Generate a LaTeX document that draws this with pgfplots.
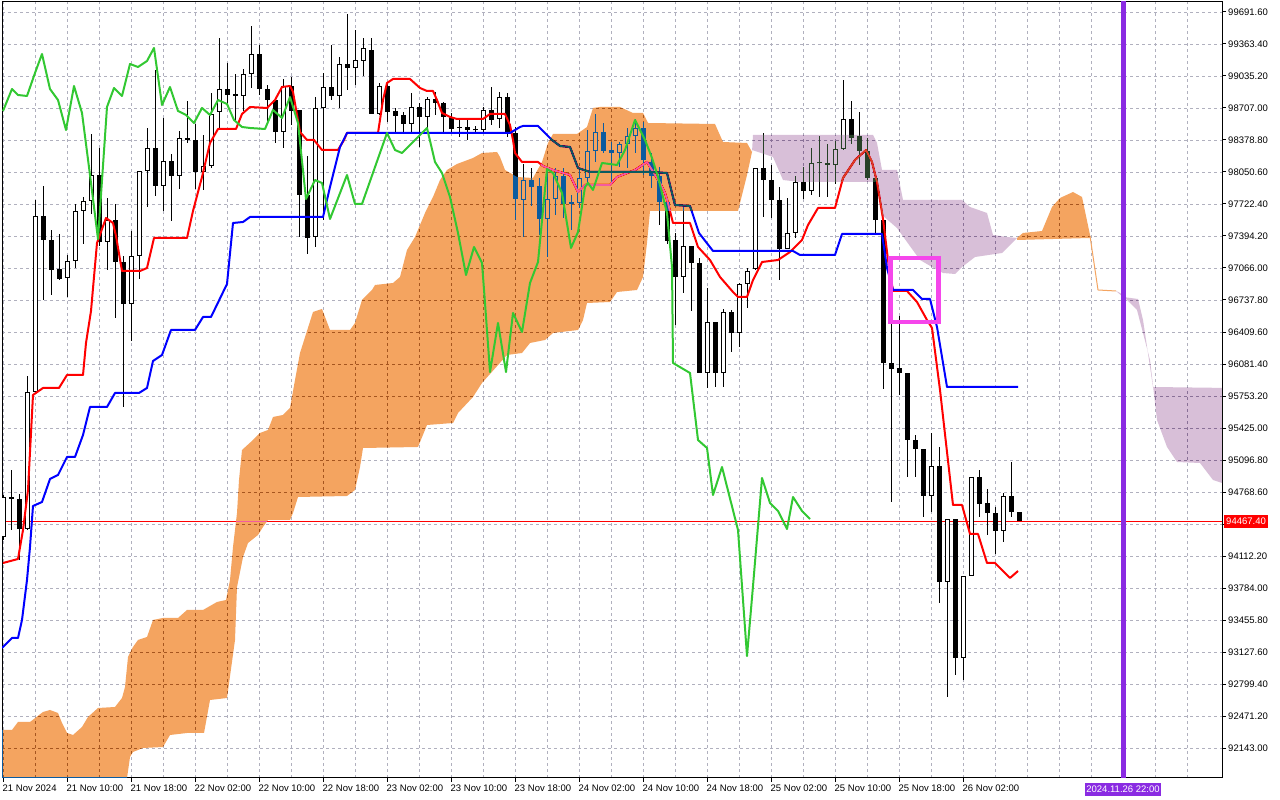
\documentclass[border=0pt]{standalone}
\usepackage{fontspec}
\setmainfont{Liberation Sans}
\usepackage{pgfplots}
\usepackage{pgfplotstable}
\pgfplotsset{compat=1.18}
\definecolor{tenkan}{RGB}{255,0,0}
\definecolor{kijun}{RGB}{0,0,255}
\definecolor{chikou}{RGB}{50,200,50}
\definecolor{sandyinv}{RGB}{11,91,159}
\definecolor{thistleinv}{RGB}{39,64,39}
\definecolor{sandy}{RGB}{244,164,96}
\definecolor{gridc}{RGB}{176,176,190}
\definecolor{vline}{RGB}{138,43,226}
\definecolor{boxc}{RGB}{245,70,235}
\definecolor{bidred}{RGB}{255,0,0}

\pgfplotstableread{
t o h l c
0 94307.2 94738.0 94276.5 94717.5
3 94389.3 95958.4 94379.0 95794.3
4 95794.3 97763.5 95784.1 97599.4
8 96963.5 97199.4 96768.7 97137.9
9 97137.9 97722.5 97066.1 97650.7
10 97650.7 97794.3 97312.2 97753.2
11 97753.2 98440.4 97619.9 98019.9
13 97332.7 97784.0 97045.6 97558.4
16 96696.9 97445.6 96317.4 97189.2
17 97189.2 98060.9 96953.3 98060.9
18 98060.9 98501.9 97691.7 98296.8
20 97907.1 98604.5 97650.7 98163.5
22 98009.6 98471.2 97876.3 98399.4
25 98050.7 98430.1 97866.1 98112.2
26 98112.2 98860.9 98091.7 98645.5
27 98666.0 99425.0 98491.7 98901.9
30 98830.1 99107.0 98676.3 99055.8
31 99055.8 99548.0 98912.2 99260.9
35 98460.9 99004.5 98296.8 98932.7
39 97384.0 98819.9 97281.5 98707.1
40 98707.1 99066.0 97558.4 98922.4
42 98830.1 99230.1 98707.1 99158.3
44 99117.3 99507.0 98942.9 99199.3
45 99189.1 99425.0 99035.2 99322.4
47 98645.5 98963.5 98635.3 98932.7
51 98543.0 98860.9 98450.7 98717.3
53 98614.7 98819.9 98450.7 98799.4
60 98481.4 98717.3 98460.9 98686.5
62 98594.2 98871.1 98501.9 98819.9
65 97763.5 98132.7 97384.0 97968.6
68 97568.6 98071.2 97178.9 97773.8
69 97773.8 98091.7 97609.7 98009.6
72 97732.7 98071.2 97681.5 97989.1
73 97989.1 98481.4 97917.3 98266.0
74 98266.0 98645.5 98153.2 98460.9
77 98245.5 98358.3 98101.9 98337.8
78 98337.8 98501.9 98091.7 98419.9
79 98419.9 98594.2 98245.5 98501.9
85 96973.8 97691.7 96809.7 97291.7
88 95989.2 96861.0 95835.4 96512.3
90 95989.2 96645.6 95845.6 96614.8
92 96399.5 96912.3 96255.9 96902.0
93 96902.0 97066.1 96655.9 97035.3
94 97055.8 98091.7 97045.6 98091.7
98 97261.0 97784.0 97261.0 97425.1
99 97425.1 98009.6 97373.8 97948.1
101 97855.8 98296.8 97814.8 98143.0
104 98122.5 98368.6 97927.6 98286.6
105 98286.6 98994.2 98276.3 98594.2
116 94727.7 95373.9 94563.6 95035.4
118 93845.7 94491.8 92666.3 94491.8
120 93066.3 93907.2 92840.6 93907.2
121 93907.2 94922.6 93907.2 94922.6
125 94368.8 94758.5 94255.9 94727.7
}\bull

\pgfplotstableread{
t o h l c
1 94717.5 94994.4 94379.0 94697.0
2 94697.0 94748.2 94071.3 94389.3
5 97599.4 97907.1 96737.9 97353.3
6 97353.3 97455.8 96789.2 97045.6
7 97055.8 97414.8 96943.0 96953.3
12 98019.9 98296.8 97291.7 97332.7
14 97558.4 97722.5 96553.3 97127.6
15 97127.6 97189.2 95640.5 96696.9
19 98296.8 99096.8 97804.5 97907.1
21 98163.5 98235.3 97548.1 98009.6
23 98399.4 98778.8 98348.1 98378.9
24 98378.9 98543.0 97876.3 98050.7
28 98901.9 99168.6 98717.3 98840.4
29 98850.6 99055.8 98573.7 98830.1
32 99260.9 99353.2 98840.4 98901.9
33 98901.9 98942.9 98563.5 98789.1
34 98789.1 98809.6 98348.1 98460.9
36 98932.7 99025.0 98532.7 98676.3
37 98686.5 98686.5 97384.0 97814.8
38 97814.8 98214.8 97209.7 97373.8
41 98922.4 99353.2 98789.1 98830.1
43 99158.3 99671.1 98891.7 99117.3
46 99301.9 99425.0 98645.5 98645.5
48 98932.7 98973.7 98563.5 98666.0
49 98676.3 98707.1 98450.7 98625.0
50 98635.3 98666.0 98450.7 98543.0
52 98717.3 98758.3 98307.1 98614.7
54 98799.4 98871.1 98635.3 98758.3
55 98758.3 98768.6 98450.7 98614.7
56 98614.7 98655.8 98450.7 98491.7
57 98512.2 98584.0 98409.6 98501.9
58 98512.2 98584.0 98378.9 98481.4
59 98491.7 98522.4 98450.7 98476.3
61 98686.5 98922.4 98532.7 98584.0
63 98819.9 98860.9 98409.6 98450.7
64 98450.7 98512.2 97558.4 97773.8
66 97968.6 98091.7 97702.0 97896.8
67 97907.1 97989.1 97404.5 97568.6
70 98009.6 98091.7 97578.9 97722.5
71 97737.8 97814.8 97455.8 97722.5
75 98460.9 98553.2 98245.5 98266.0
76 98276.3 98358.3 97948.1 98245.5
80 98501.9 98563.5 98019.9 98173.7
81 98153.2 98245.5 97886.6 98009.6
82 98009.6 98101.9 97507.1 97743.0
83 97743.0 97784.0 97312.2 97343.0
84 97353.3 97425.1 96481.5 96973.8
86 97291.7 97291.7 96625.1 97117.4
87 97117.4 97168.7 95989.2 95989.2
89 96512.3 96512.3 95845.6 95989.2
91 96614.8 96635.3 96204.6 96399.5
95 98091.7 98450.7 97589.1 97968.6
96 97968.6 98122.5 97578.9 97763.5
97 97763.5 97896.8 96943.0 97261.0
100 97948.1 98101.9 97773.8 97855.8
102 98148.0 98419.9 97794.3 98138.0
103 98143.0 98337.8 97794.3 98122.5
106 98594.2 98778.8 98337.8 98399.4
107 98419.9 98666.0 98122.5 98266.0
108 98266.0 98399.4 97968.6 97989.1
109 97989.1 98019.9 97425.1 97558.4
110 97558.4 97558.4 95825.1 96091.8
111 96091.8 96573.8 94666.2 96030.2
112 96040.5 96573.8 95763.6 95989.2
113 95989.2 95989.2 94922.6 95302.1
114 95302.1 95353.3 94922.6 95209.8
115 95209.8 95209.8 94512.3 94727.7
117 95035.4 95230.3 93630.3 93845.7
119 94491.8 94491.8 92891.9 93066.3
122 94922.6 94994.4 94512.3 94645.7
123 94655.9 94799.5 94327.7 94553.4
124 94553.4 94614.9 94132.9 94368.8
126 94727.7 95076.4 94512.3 94563.6
127 94563.6 94563.6 94467.4 94467.4
}\bear

\pgfplotsset{
  candle/.style={draw=none, mark=none, mark size=0pt, forget plot,
    error bars/.cd, y dir=plus, y explicit, error mark=none},
}

\begin{document}
\begin{tikzpicture}[x=1pt,y=1pt]
\fill[white] (0,0) rectangle (1280,800);
\useasboundingbox (0,0) rectangle (1280,800);
\begin{axis}[
  at={(2pt,22pt)}, anchor=south west,
  scale only axis, width=1220pt, height=776pt,
  xmin=-0.125, xmax=152.375, ymin=91835.5, ymax=99794.2,
  scaled y ticks=false, scaled x ticks=false,
  axis line style={black, line width=1pt},
  xtick={0,8,...,120},
  xticklabels={21 Nov 2024,21 Nov 10:00,21 Nov 18:00,22 Nov 02:00,22 Nov 10:00,22 Nov 18:00,23 Nov 02:00,23 Nov 10:00,23 Nov 18:00,24 Nov 02:00,24 Nov 10:00,24 Nov 18:00,25 Nov 02:00,25 Nov 10:00,25 Nov 18:00,26 Nov 02:00},
  minor xtick={4,8,...,148},
  ytick={92143.0,92471.2,92799.4,93127.6,93455.8,93784.0,94112.2,94440.4,94768.6,95096.8,95425.0,95753.2,96081.4,96409.6,96737.8,97066.0,97394.2,97722.4,98050.6,98378.8,98707.0,99035.2,99363.4,99691.6},
  yticklabels={92143.00,92471.20,92799.40,93127.60,93455.80,93784.00,94112.20,{},94768.60,95096.80,95425.00,95753.20,96081.40,96409.60,96737.80,97066.00,97394.20,97722.40,98050.60,98378.80,98707.00,99035.20,99363.40,99691.60},
  xtick pos=left, ytick pos=right, yticklabel pos=right,
  tick align=outside, major tick length=4pt, minor tick length=0pt,
  tick style={black, line width=1pt},
  grid=both,
  major grid style={gridc, dash pattern=on 3pt off 3pt, line width=0.8pt},
  minor grid style={gridc, dash pattern=on 3pt off 3pt, line width=0.8pt},
  every tick label/.append style={font=\fontsize{9.5}{11}\selectfont, text=black},
  xticklabel style={anchor=north west, inner sep=0pt, yshift=-3pt, xshift=-0.5pt},
  yticklabel style={anchor=west, inner sep=0pt, xshift=2pt},
]
% bid line (behind the candles)
\addplot[draw=bidred, line width=1.2pt, forget plot] coordinates {(-0.125,94467.4) (152.375,94467.4)};
% wicks
\addplot[candle, error bar style={draw=black, line width=1pt}] table[x=t, y=l, y error plus expr={\thisrow{h}-\thisrow{l}}] {\bull};
\addplot[candle, error bar style={draw=black, line width=1pt}] table[x=t, y=l, y error plus expr={\thisrow{h}-\thisrow{l}}] {\bear};
% bodies
\addplot[candle, error bar style={draw=black, line width=5pt}] table[x=t, y=c, y error plus expr={\thisrow{o}-\thisrow{c}}] {\bear};
\addplot[candle, error bar style={draw=black, line width=5pt}] table[x=t, y=o, y error plus expr={\thisrow{c}-\thisrow{o}}] {\bull};
\addplot[candle, error bar style={draw=white, line width=3pt, shorten <=1pt, shorten >=1pt}] table[x=t, y=o, y error plus expr={\thisrow{c}-\thisrow{o}}] {\bull};
% tenkan
\addplot[draw=tenkan, line width=2pt, line join=round] table {
x y
0 94040.6
1.875 94081.6
2.5 94379.0
3.125 94789.3
3.75 95763.6
5 95835.4
7 95835.4
8 95968.7
10 95968.7
10.375 96296.9
11 96625.1
11.75 97322.5
12.875 97578.9
13.75 97527.6
14.125 97394.3
14.875 97035.3
17.125 97035.3
18 97066.1
18.875 97373.8
23 97373.8
23.75 97650.7
24.875 97999.4
25.875 98348.1
26.875 98491.7
29.125 98491.7
29.875 98645.5
30.875 98717.3
33 98707.1
34 98789.1
34.875 98922.4
35.875 98932.7
36.25 98871.1
37.125 98460.9
38 98378.9
38.875 98378.9
39.875 98276.3
41.875 98276.3
42.625 98378.9
43 98450.7
46.875 98450.7
47.5 98789.1
48 98963.5
48.75 99004.5
50.875 99004.5
52.125 98912.2
53 98881.4
53.75 98881.4
54.25 98789.1
54.875 98655.8
55.875 98614.7
56.75 98594.2
60 98594.2
60.875 98645.5
62.75 98645.5
63.375 98532.7
63.75 98378.9
64 98245.5
64.875 98153.2
66.875 98153.2
67.5 98112.2
68.75 98071.2
70.875 98019.9
71.875 97845.5
72.75 97917.3
75.875 97917.3
76.75 97999.4
79 98071.2
80.5 98153.2
82.125 97937.9
82.75 97835.3
83.125 97732.7
83.75 97527.6
85.875 97527.6
86.875 97281.5
88.375 97148.1
89.625 96973.8
91.25 96819.9
91.875 96768.7
93 96768.7
93.75 96943.0
94.875 97127.6
96.875 97148.1
98.375 97230.2
99.875 97353.3
100.625 97507.1
101.875 97681.5
104 97681.5
105 97989.1
106.5 98173.7
107.875 98276.3
108.625 98153.2
109.25 97948.1
110 97568.6
110.625 97148.1
111.25 96830.2
113 96830.2
114.25 96717.4
115.5 96532.8
116.125 96450.7
117.125 95814.9
118 95179.0
118.75 94635.4
119.875 94635.4
120.875 94338.0
121.875 94338.0
123 94040.6
124 94040.6
125.875 93886.7
126.875 93958.5
};
% kijun
\addplot[draw=kijun, line width=2pt, line join=round] table {
x y
-0.125 93168.8
1.125 93271.4
1.875 93271.4
2.375 93456.0
3 93866.2
3.375 94204.7
3.75 94625.2
4.875 94666.2
5.875 94902.1
6.875 94943.1
8 95127.7
9 95127.7
10 95353.3
10.875 95640.5
13 95640.5
14 95784.1
17 95784.1
18 95835.4
18.75 96112.3
19.875 96173.8
21 96430.2
24 96430.2
25 96563.5
26 96563.5
28 96902.0
28.75 97527.6
30 97537.9
30.875 97589.1
40 97589.1
40.875 97896.8
42.125 98307.1
43 98450.7
63.375 98450.7
64.625 98512.2
65 98522.4
66.875 98522.4
68.625 98378.9
69.625 98317.3
70.875 98307.1
71.875 98091.7
73.375 98050.7
80.875 98050.7
83 98040.4
84 97712.2
85.875 97702.0
87 97425.1
88.75 97240.4
98.75 97240.4
99.625 97199.4
104 97199.4
104.875 97414.8
109.875 97414.8
110.5 97066.1
111.25 96840.5
113.75 96840.5
114.875 96748.2
115.875 96748.2
116.75 96461.0
118 95845.6
126.875 95845.6
};
% kumo (drawn with difference blending, as the terminal does)
\addplot[draw=none, fill=sandyinv, blend mode=difference] coordinates {
(-0.375,92327.8) (1.125,92327.8) (1.875,92409.9) (3.375,92409.9) (5,92512.4) (5.875,92532.9) (6.875,92502.2) (7.375,92399.6) (8,92297.1) (8.75,92276.5) (9.875,92358.6) (10.625,92461.1) (11.875,92553.5) (14,92563.8) (14.875,92656.0) (15.25,92768.8) (15.625,93076.5) (16.25,93179.1) (16.875,93250.9) (18,93281.6) (18.75,93456.0) (20,93476.5) (21.875,93476.5) (23,93558.5) (25,93558.5) (26.75,93640.6) (27.875,93661.1) (28.375,93866.2) (28.75,94204.7) (29.25,94553.4) (29.5,94891.8) (29.875,95199.5) (31.25,95302.1) (32.125,95373.9) (33.125,95404.6) (33.75,95537.9) (35,95558.5) (35.875,95630.3) (36.5,95917.4) (37.125,96194.3) (38.75,96614.8) (39.875,96645.6) (40.875,96430.2) (43.375,96430.2) (44,96502.0) (44.875,96737.9) (46.125,96840.5) (46.5,96891.7) (48.75,96912.3) (49.625,96973.8) (50.5,97250.7) (51.5,97384.0) (52.75,97630.2) (53.75,97794.3) (54.625,97968.6) (55.5,98071.2) (56.75,98132.7) (58.75,98194.3) (59.875,98245.5) (61.75,98255.8) (62.125,98204.5) (62.75,98071.2) (64.25,97999.4) (66.25,97989.1) (67.375,98153.2) (68.125,98348.1) (68.75,98440.4) (71.75,98440.4) (73,98512.2) (73.75,98707.1) (74.625,98717.3) (77.125,98717.3) (78.75,98655.8) (80,98655.8) (80.625,98553.2) (89,98543.0) (90,98358.3) (93,98348.1) (93.625,98255.8)
(93,98019.9) (91.875,97650.7) (80.875,97650.7) (80.5,97322.5) (80,96973.8) (79.25,96840.5) (76.75,96819.9) (75.875,96717.4) (73,96707.1) (72.5,96532.8) (71.875,96430.2) (68.75,96399.5) (67.75,96327.7) (65.875,96296.9) (64.875,96194.3) (63,96173.8) (59.875,95886.7) (58.75,95743.1) (56.875,95579.0) (56.25,95476.4) (53,95455.9) (51.875,95230.3) (45,95220.0) (44.625,95025.1) (44,94789.3) (43,94727.7) (36.875,94717.5) (36.25,94553.4) (35.875,94481.6) (33.125,94481.6) (32.5,94409.8) (31.875,94327.7) (30.625,94245.7) (30,94102.1) (29.25,93794.4) (29,93250.9) (28,92656.0) (25.875,92635.5) (25.125,92297.1) (23,92297.1) (20.875,92276.5) (20,92153.5) (17.5,92143.2) (16.25,92102.2) (15.875,92050.9) (15.5,91835.5) (15.375,91600) (-0.375,91600)
};
\addplot[draw=none, fill=thistleinv, blend mode=difference] coordinates {
(93.625,98255.8) (93.75,98430.1) (108.75,98430.1) (109.25,98348.1) (109.875,98071.2) (111.75,98071.2) (112.5,97763.5) (119.875,97763.5) (120.875,97691.7) (123,97630.2) (123.75,97404.5) (125.5,97384.0) (126.75,97373.8)
(124.875,97219.9) (121.5,97178.9) (119.875,97076.3) (119,97004.6) (117.5,97014.8) (116.125,97076.3) (114.625,97148.1) (113,97332.7) (111.75,97476.3) (109.875,97609.7) (109.25,97948.1) (99.625,97948.1) (97.5,97968.6) (96.25,98204.5) (93.625,98276.3)
};
\addplot[draw=none, fill=sandyinv, blend mode=difference] coordinates {
(126.75,97373.8) (127.5,97425.1) (129.875,97445.6) (131.125,97691.7) (132.125,97784.0) (133.75,97845.5) (134.875,97794.3) (135.875,97404.5) (135.875,97373.8) (126.75,97353.3)
};
\addplot[draw=sandy, line width=1pt] coordinates {(135.875,97394.3) (136.875,96840.5) (139.125,96830.2)};
\addplot[draw=none, fill=thistleinv, blend mode=difference] coordinates {
(139.125,96830.2) (140,96768.7) (141.875,96748.2) (142.5,96532.8) (143.75,95845.6) (153.375,95835.4)
(153.375,94840.5) (152.375,94861.0) (151.25,94891.8) (149.625,95066.2) (146.75,95076.4) (145.5,95230.3) (144.25,95507.2) (143.375,96122.5) (141.75,96635.3) (139.625,96809.7)
};
% chikou
\addplot[draw=chikou, line width=2pt, line join=round] table {
x y
0 98676.3
1.125 98901.9
1.875 98840.4
3 98830.1
4 99066.0
4.875 99260.9
5.875 98901.9
6.875 98789.1
7.875 98481.4
8.875 98932.7
9.875 98655.8
10.875 98019.9
11.875 97363.5
13 98717.3
13.875 98912.2
14.875 98830.1
15.875 99158.3
16.875 99127.5
18 99189.1
18.875 99322.4
19.875 98737.8
20.875 98922.4
21.875 98676.3
22.875 98635.3
23.875 98553.2
24.875 98707.1
25.875 98635.3
26.875 98789.1
28 98748.1
28.875 98584.0
29.875 98512.2
30.875 98501.9
32.75 98491.7
33.75 98686.5
34.875 98604.5
35.875 98819.9
36.875 98553.2
37.875 97773.8
39 97968.6
39.875 97937.9
40.875 97568.6
43 98019.9
44 97722.5
44.875 97722.5
48 98450.7
49 98276.3
49.875 98245.5
53 98501.9
54 98153.2
54.875 98040.4
55.875 97794.3
56.875 97425.1
57.875 96994.3
58.875 97281.5
59.875 97117.4
60.25 96707.1
60.875 95999.5
61.875 96502.0
62.875 95999.5
63.75 96604.6
64.875 96409.7
65.875 96912.3
66.875 97127.6
67.5 97660.9
68 98081.4
68.75 98040.4
69.875 97835.3
71 97271.2
71.875 97435.3
72.75 97896.8
73.125 97937.9
73.75 97866.1
74.875 98143.0
76.75 98122.5
77.75 98276.3
79 98584.0
80.25 98378.9
81.125 98194.3
81.875 97999.4
83 97630.2
83.625 97076.3
83.75 96091.8
85.875 95989.2
86.875 95302.1
88 95220.0
88.75 94738.0
89.875 95025.1
91.875 94379.0
93 93086.8
93.75 93804.7
94.875 94912.3
95.875 94655.9
96.875 94573.9
98 94389.3
98.75 94717.5
99.875 94573.9
100.875 94491.8
};
% marked zone
\addplot[draw=boxc, line width=4.5pt, line join=miter] coordinates {(110.94,97166.6) (116.96,97166.6) (116.96,96514.3) (110.94,96514.3)} -- cycle;
% vertical time marker
\addplot[draw=vline, line width=5pt] coordinates {(140,91000) (140,100500)};
\coordinate (bid) at (axis cs:152.375,94467.4);
\coordinate (vl) at (axis cs:140,91835.5);
\end{axis}
\node[fill=bidred, text=white, anchor=west, inner xsep=2.5pt, inner ysep=0pt, minimum height=13pt, font=\fontsize{9.5}{11}\selectfont] at ([xshift=1.5pt]bid) {94467.40};
\node[fill=vline, text=white, anchor=north, inner xsep=1.5pt, inner ysep=0pt, minimum height=13pt, font=\fontsize{9.5}{11}\selectfont] at ([yshift=-5pt]vl) {2024.11.26 22:00};
\end{tikzpicture}
\end{document}
